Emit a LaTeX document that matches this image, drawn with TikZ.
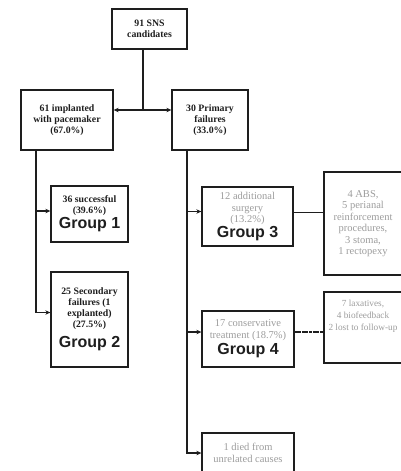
\documentclass[tikz,border=0pt]{standalone}
\usepackage{fontspec}
\setmainfont{Liberation Serif}
\setsansfont{Liberation Sans}
\usetikzlibrary{arrows.meta,positioning,calc}
\definecolor{ink}{HTML}{1E1E1E}
\definecolor{greytx}{HTML}{9C9C9C}
\newcommand{\grp}[1]{{\color{ink}\sffamily\bfseries\fontsize{16}{18}\selectfont Group #1}}

\begin{document}
\begin{tikzpicture}[x=1pt,y=-1pt,
  box/.style={draw=ink,line width=1.3pt,inner sep=2pt,align=center,text=ink,
              font=\bfseries\fontsize{9.8}{11}\selectfont},
  soft/.style={box,text=greytx,font=\fontsize{10.5}{11.5}\selectfont},
  link/.style={ink,line width=1.4pt},
  arr/.style={link,-{Stealth[length=5pt,width=4.5pt]}}]
  \useasboundingbox (0,0) rectangle (400,471);
  % top row
  \node[box,minimum width=75pt,minimum height=40pt] (cand) at (149.5,29)
       {91 SNS\\candidates};
  \node[box,minimum width=92pt,minimum height=60pt] (impl) at (67,120)
       {61 implanted\\with pacemaker\\(67.0\%)};
  \node[box,minimum width=76pt,minimum height=60pt] (prim) at (210,120)
       {30 Primary\\failures\\(33.0\%)};
  % left branch
  \node[box,minimum width=77pt,minimum height=56pt] (g1) at (89.5,214)
       {36 successful\\(39.6\%)\\[1pt]\grp{1}};
  \node[box,minimum width=77pt,minimum height=95pt] (g2) at (89.5,319.5)
       {25 Secondary\\failures (1\\explanted)\\(27.5\%)\\[6pt]\grp{2}};
  % right branch
  \node[soft,minimum width=91pt,minimum height=59pt] (g3) at (247.5,216.5)
       {12 additional\\surgery\\(13.2\%)\\\grp{3}};
  \node[soft,minimum width=78pt,minimum height=103pt] (abs) at (363,223.5)
       {4 ABS,\\5 perianal\\reinforcement\\procedures,\\3 stoma,\\1 rectopexy};
  \node[soft,minimum width=92pt,minimum height=56pt] (g4) at (248,339)
       {17 conservative\\treatment (18.7\%)\\[2pt]\grp{4}};
  \node[soft,minimum width=78pt,minimum height=71pt,inner sep=0pt,
        font=\fontsize{9.3}{12}\selectfont] (fb) at (363,327.5)
       {7 laxatives,\\4 biofeedback\\2 lost to follow-up\\\mbox{}\\\mbox{}};
  \node[soft,minimum width=92pt,minimum height=40pt] (died) at (248,453)
       {1 died from\\unrelated causes};
  % connectors
  \coordinate (split) at (143,110);
  \coordinate (trunkL) at (36,0);
  \coordinate (trunkR) at (187,0);
  \draw[link] (cand.south -| split) -- (split);
  \draw[arr] (split) -- (impl.east |- split);
  \draw[arr] (split) -- (prim.west |- split);
  \draw[arr] (impl.south -| trunkL) |- ([yshift=3pt]g1.west);
  \draw[arr] (impl.south -| trunkL) |- ([yshift=7pt]g2.west);
  \draw[arr] (prim.south -| trunkR) |- ([yshift=5pt]g3.west);
  \draw[arr] (prim.south -| trunkR) |- ([yshift=7pt]g4.west);
  \draw[arr] (prim.south -| trunkR) |- (died.west);
  \draw[link] ([yshift=4pt]g3.east) -- ([yshift=4pt]g3.east -| abs.west);
  \draw[link,dash pattern=on 3pt off 0.6pt] ([yshift=7pt]g4.east)
       -- ([yshift=7pt]g4.east -| fb.west);
\end{tikzpicture}
\end{document}
